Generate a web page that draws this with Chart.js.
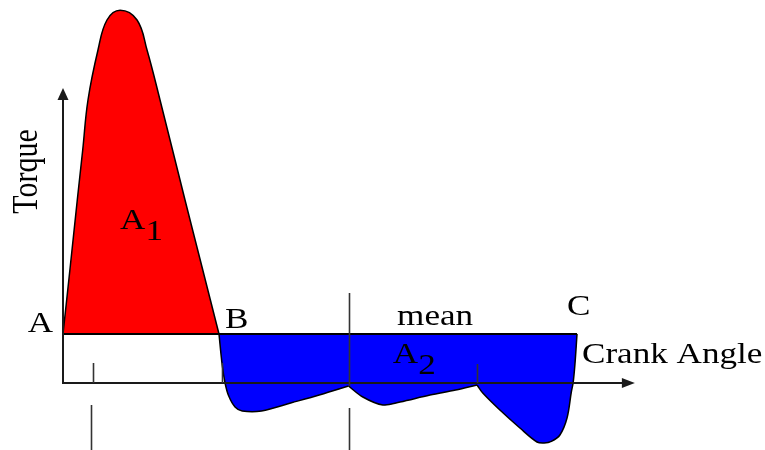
<!DOCTYPE html>
<html>
<head>
<meta charset="utf-8">
<script src="https://cdn.jsdelivr.net/npm/chart.js@4.4.1/dist/chart.umd.min.js"></script>
<style>
  html, body { margin: 0; padding: 0; background: #fff; }
  #wrap { width: 765px; height: 450px; }
</style>
</head>
<body>
<div id="wrap"><canvas id="torqueChart"></canvas></div>
<script>
// Par medio (línea "mean")
const torqueMean = 12.25;
const meanAngles = [0, 720];
const meanTorque = [torqueMean, torqueMean];

// Curva A -> B (área A1), ángulo en grados y par en unidades relativas
const expansionAngles = [0, 10.4, 20, 27.6, 35, 49, 61.6, 80, 103.7, 117.7, 135.9, 170.9, 194, 218.5];
const expansionTorque = [12.25, 29.5, 45.75, 58.25, 70.75, 83.25, 90.75, 93.2, 90.75, 83.25, 70.75, 45.75, 29.5, 12.25];

// Curva B -> C (área A2), tres tramos separados por los picos
const lowAngles1 = [218.5, 223, 227, 232, 241, 251, 278, 320, 360, 400];
const lowTorque1 = [12.25, 4.5, 0, -3.2, -6, -7, -7, -4.95, -2.95, -0.75];
const lowAngles2 = [400, 420, 448, 472, 514, 550, 580];
const lowTorque2 = [-0.75, -3.5, -5.5, -4.75, -3, -1.75, -0.5];
const lowAngles3 = [580, 588, 612, 640, 664, 674, 684, 696, 706, 712, 714.5, 717, 720];
const lowTorque3 = [-0.5, -2.5, -6.75, -11.25, -14.75, -15, -14.6, -13, -8.75, -2.25, 0, 4.5, 12.25];

// Marcas verticales: ángulo, par inicial y final
const markerAngles = [42, 39, 223, 400, 400, 580];
const markerFrom = [0, -5.5, 0, -0.75, -6.25, 0];
const markerTo = [5, -16.75, 5, 22.5, -16.75, 4.75];

// Extremos de los ejes (flechas)
const axisAngleEnd = 801;
const axisTorqueEnd = 73.75;

const toPoints = (xs, ys) => xs.map((x, i) => ({ x, y: ys[i] }));

const FONT = '30px "Liberation Serif", "Times New Roman", serif';
const TEXT_STRETCH = 1.17;
const INK = "#1a1a1a";

function drawText(ctx, text, px, py, align, sub) {
  ctx.save();
  ctx.translate(px, py);
  ctx.scale(TEXT_STRETCH, 1);
  ctx.font = FONT;
  ctx.fillStyle = "#000";
  ctx.textAlign = align;
  ctx.textBaseline = "alphabetic";
  ctx.fillText(text, 0, 0);
  if (sub) {
    const w = ctx.measureText(text).width;
    ctx.textAlign = "left";
    ctx.fillText(sub, w, 11);
  }
  ctx.restore();
}

const diagramPlugin = {
  id: "diagram",
  afterDatasetsDraw(chart) {
    const { ctx } = chart;
    const xs = chart.scales.x;
    const ys = chart.scales.y;
    const px = (v) => xs.getPixelForValue(v);
    const py = (v) => ys.getPixelForValue(v);

    ctx.save();
    ctx.strokeStyle = INK;
    ctx.fillStyle = INK;
    ctx.lineWidth = 2;

    // ejes
    ctx.beginPath();
    ctx.moveTo(px(0), py(axisTorqueEnd) + 10);
    ctx.lineTo(px(0), py(0));
    ctx.lineTo(px(axisAngleEnd) - 10, py(0));
    ctx.stroke();

    // flechas
    ctx.beginPath();
    ctx.moveTo(px(0), py(axisTorqueEnd));
    ctx.lineTo(px(0) - 5.5, py(axisTorqueEnd) + 12);
    ctx.lineTo(px(0) + 5.5, py(axisTorqueEnd) + 12);
    ctx.closePath();
    ctx.fill();
    ctx.beginPath();
    ctx.moveTo(px(axisAngleEnd), py(0));
    ctx.lineTo(px(axisAngleEnd) - 13, py(0) - 5);
    ctx.lineTo(px(axisAngleEnd) - 13, py(0) + 5);
    ctx.closePath();
    ctx.fill();

    // marcas verticales
    ctx.lineWidth = 1.6;
    ctx.strokeStyle = "#333";
    markerAngles.forEach((a, i) => {
      const x = Math.round(px(a)) + 0.5;
      ctx.beginPath();
      ctx.moveTo(x, py(markerFrom[i]));
      ctx.lineTo(x, py(markerTo[i]));
      ctx.stroke();
    });
    ctx.restore();

    // textos
    drawText(ctx, "A", px(-14), py(12.75), "right");
    drawText(ctx, "B", px(227), py(13.75), "left");
    drawText(ctx, "C", px(706), py(17), "left");
    drawText(ctx, "mean", px(468), py(14.5), "left");
    drawText(ctx, "Crank Angle", px(727), py(5), "left");
    drawText(ctx, "A", px(80), py(38.5), "left", "1");
    drawText(ctx, "A", px(462), py(5), "left", "2");

    ctx.save();
    ctx.translate(px(-36.4), py(52.9));
    ctx.scale(TEXT_STRETCH, 1);
    ctx.rotate(-Math.PI / 2);
    ctx.font = FONT;
    ctx.fillStyle = "#000";
    ctx.textAlign = "center";
    ctx.textBaseline = "alphabetic";
    ctx.fillText("Torque", 0, 0);
    ctx.restore();
  },
};

const lowStyle = {
  borderColor: "#000",
  borderWidth: 1.5,
  backgroundColor: "#0000ff",
  fill: { value: torqueMean },
  tension: 0.35,
  pointRadius: 0,
  order: 1,
};

const canvas = document.getElementById("torqueChart");
const torqueChart = new Chart(canvas.getContext("2d"), {
  type: "line",
  data: {
    datasets: [
      {
        label: "mean",
        data: toPoints(meanAngles, meanTorque),
        borderColor: "#000",
        borderWidth: 2,
        pointRadius: 0,
        fill: false,
        order: 0,
      },
      {
        label: "A1",
        data: toPoints(expansionAngles, expansionTorque),
        borderColor: "#000",
        borderWidth: 1.5,
        backgroundColor: "#ff0000",
        fill: { value: torqueMean },
        tension: 0.4,
        pointRadius: 0,
        order: 1,
      },
      { label: "A2a", data: toPoints(lowAngles1, lowTorque1), ...lowStyle },
      { label: "A2b", data: toPoints(lowAngles2, lowTorque2), ...lowStyle },
      { label: "A2c", data: toPoints(lowAngles3, lowTorque3), ...lowStyle },
      {
        // relleno de fondo para tapar las uniones entre tramos
        label: "A2",
        data: toPoints(
          [...lowAngles1, ...lowAngles2.slice(1), ...lowAngles3.slice(1)],
          [...lowTorque1, ...lowTorque2.slice(1), ...lowTorque3.slice(1)]
        ),
        borderWidth: 0,
        backgroundColor: "#0000ff",
        fill: { value: torqueMean },
        tension: 0,
        pointRadius: 0,
        order: 2,
      },
    ],
  },
  options: {
    responsive: true,
    maintainAspectRatio: false,
    animation: false,
    layout: { padding: 0 },
    plugins: {
      legend: { display: false },
      tooltip: { enabled: false },
    },
    scales: {
      x: { type: "linear", display: false, min: -88.25, max: 983.3 },
      y: { type: "linear", display: false, min: -16.75, max: 95.75 },
    },
  },
  plugins: [diagramPlugin],
});
</script>
</body>
</html>
